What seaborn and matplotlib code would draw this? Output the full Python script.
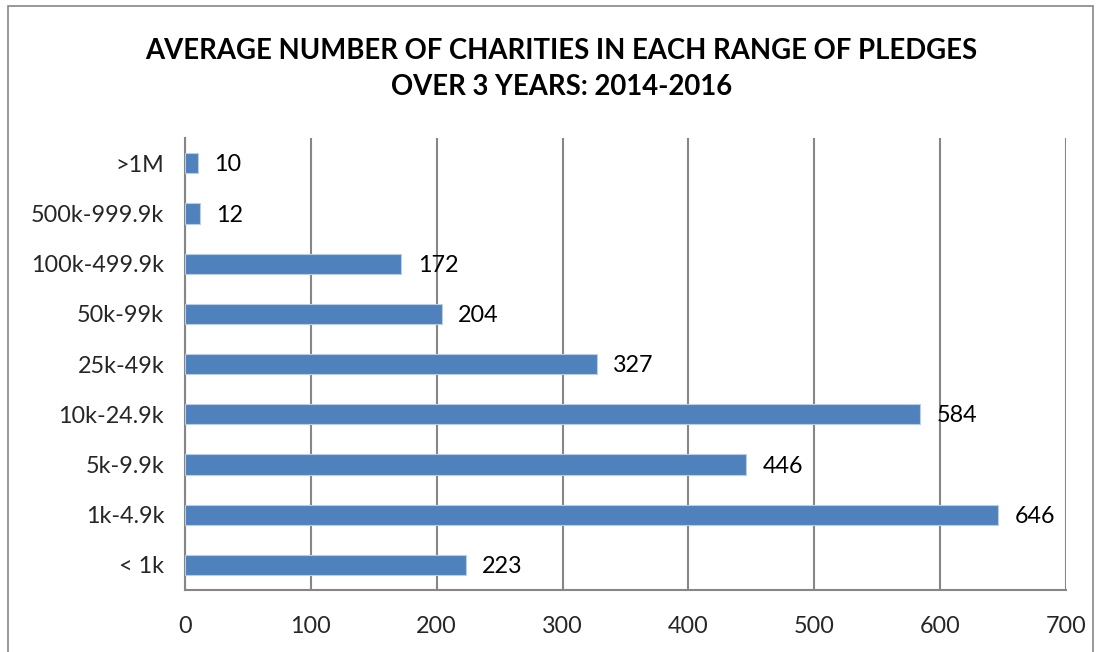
import matplotlib
matplotlib.use("Agg")
import matplotlib.pyplot as plt
import seaborn as sns
import pandas as pd
import numpy as np
from matplotlib.patches import Rectangle

sns.set_style("white")
plt.rcParams['font.family'] = ['Lato', 'DejaVu Sans']

# Data
ranges = ['>1M', '500k-999.9k', '100k-499.9k', '50k-99k', '25k-49k',
          '10k-24.9k', '5k-9.9k', '1k-4.9k', '< 1k']
charities = [10, 12, 172, 204, 327, 584, 446, 646, 223]
x_ticks = [0, 100, 200, 300, 400, 500, 600, 700]

df = pd.DataFrame({'range': ranges, 'count': charities})

fig = plt.figure(figsize=(11.03, 6.52), dpi=100)
ax = fig.add_axes([0.1677, 0.0951, 0.7988, 0.6929])

grid_col = '#868686'
fs = 16.8
sns.barplot(data=df, y='range', x='count', orient='h', color='#4F81BD',
            width=0.4, edgecolor='#B9CDE5', linewidth=0.8, saturation=1,
            ax=ax, zorder=3)

ax.set_xlim(0, 700)
ax.set_ylim(len(ranges) - 0.5, -0.5)
ax.set_xticks(x_ticks)
ax.set_xticklabels([str(t) for t in x_ticks], fontsize=fs)
ax.tick_params(axis='y', which='major', length=0, labelsize=fs, pad=15)
ax.set_yticks(np.arange(-0.5, len(ranges)), minor=True)
ax.tick_params(axis='y', which='minor', length=7, width=1.5, color=grid_col, direction='out')
ax.tick_params(axis='x', which='major', length=7, width=1.5, color=grid_col, direction='out', pad=12)
ax.set_xlabel('')
ax.set_ylabel('')

ax.grid(axis='x', color=grid_col, linewidth=1.5, zorder=0)
ax.set_axisbelow(True)
for side in ['top', 'right']:
    ax.spines[side].set_visible(False)
for side in ['left', 'bottom']:
    ax.spines[side].set_color(grid_col)
    ax.spines[side].set_linewidth(1.5)

for i, v in enumerate(charities):
    ax.text(v + 13, i + 0.03, str(v), va='center', ha='left', fontsize=fs, color='black', zorder=4)

fig.text(0.509, 0.894, "AVERAGE NUMBER OF CHARITIES IN EACH RANGE OF PLEDGES\nOVER 3 YEARS: 2014-2016",
         ha='center', va='center', fontsize=19.8, fontweight='bold', linespacing=1.45,
         color='black')

fig.patches.append(Rectangle((8 / 1103, -0.01), 1085 / 1103, 1 - 6 / 652 + 0.01,
                             transform=fig.transFigure, fill=False,
                             edgecolor='#868686', linewidth=1.2))

plt.savefig('out.png', dpi=100)
